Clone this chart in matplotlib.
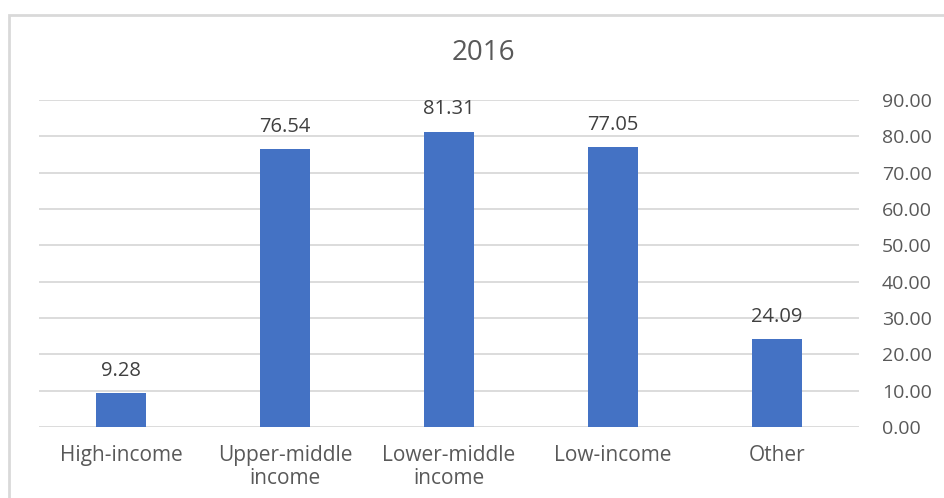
import matplotlib
matplotlib.use('Agg')
import matplotlib.pyplot as plt
from matplotlib.patches import Rectangle

categories = ['High-income', 'Upper-middle\nincome', 'Lower-middle\nincome', 'Low-income', 'Other']
values = [9.28, 76.54, 81.31, 77.05, 24.09]
yticks = [0, 10, 20, 30, 40, 50, 60, 70, 80, 90]

plt.rcParams['font.family'] = ['Open Sans', 'DejaVu Sans']
W, H = 945, 498
fig = plt.figure(figsize=(W / 100, H / 100), dpi=100)
fig.patches.append(Rectangle((9 / W, -0.1), 1.2, 1 - 15 / H + 0.1, transform=fig.transFigure,
                             fill=False, edgecolor='#d9d9d9', linewidth=2))

ax = fig.add_axes([39 / W, 71 / H, 820 / W, 327 / H])
x = range(len(categories))
ax.bar(x, values, width=0.31, color='#4472c4', zorder=3)
for xi, v in zip(x, values):
    ax.annotate(f'{v:.2f}', (xi, v), xytext=(0, 16), textcoords='offset points',
                ha='center', va='center', fontsize=14.5, color='#404040')

ax.set_xlim(-0.5, len(categories) - 0.5)
ax.set_ylim(0, 90)
ax.set_yticks(yticks)
ax.set_yticklabels([f'{t:.2f}' for t in yticks])
ax.yaxis.tick_right()
ax.grid(axis='y', color='#d9d9d9', linewidth=1.3, zorder=0)
for s in ax.spines.values():
    s.set_visible(False)
ax.tick_params(axis='y', length=0, pad=16.5, labelsize=14, labelcolor='#595959')
for lab in ax.get_yticklabels():
    lab.set_horizontalalignment('left')
ax.set_xticks(list(x))
ax.set_xticklabels(categories, linespacing=1.15)
ax.tick_params(axis='x', length=0, pad=13, labelsize=15, labelcolor='#595959')

fig.text(483 / W, 1 - 53 / H, '2016', ha='center', va='center', fontsize=20, color='#595959')

fig.savefig('out.png', dpi=100)
